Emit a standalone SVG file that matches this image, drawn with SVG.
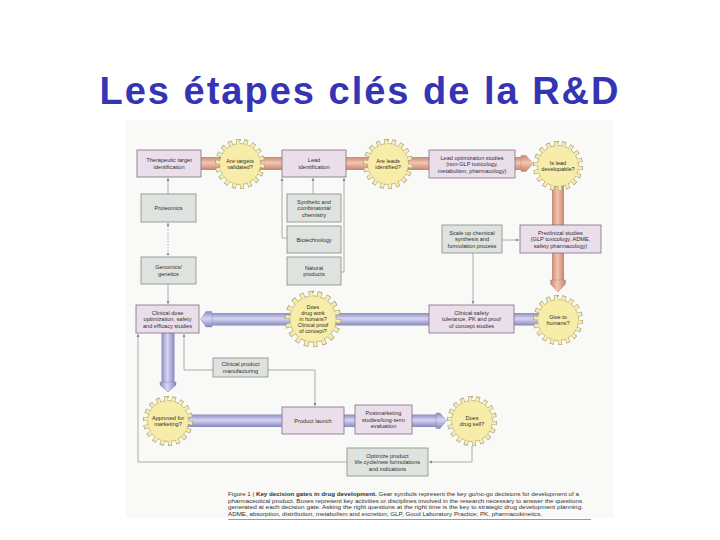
<svg xmlns="http://www.w3.org/2000/svg" xmlns:xlink="http://www.w3.org/1999/xlink" width="720" height="540" viewBox="0 0 720 540">
<style>
.t{font-family:"Liberation Sans",Arial,sans-serif;font-size:5.6px;fill:#2e2e2e;text-anchor:middle}
.cap{font-family:"Liberation Sans",Arial,sans-serif;font-size:5.6px;fill:#333}
.pk{fill:#ebdeeb;stroke:#7f6f80;stroke-width:0.8}
.gy{fill:#dfe3df;stroke:#868c86;stroke-width:0.8}
.ln{fill:none;stroke:#9a9a9a;stroke-width:0.8}
</style>
<defs>
<linearGradient id="salH" x1="0" y1="0" x2="0" y2="1"><stop offset="0" stop-color="#c88a72"/><stop offset="0.45" stop-color="#f4c6b2"/><stop offset="1" stop-color="#c3846d"/></linearGradient>
<linearGradient id="salV" x1="0" y1="0" x2="1" y2="0"><stop offset="0" stop-color="#c88a72"/><stop offset="0.45" stop-color="#f4c6b2"/><stop offset="1" stop-color="#c3846d"/></linearGradient>
<linearGradient id="lavH" x1="0" y1="0" x2="0" y2="1"><stop offset="0" stop-color="#8c8cc4"/><stop offset="0.45" stop-color="#d6d6f2"/><stop offset="1" stop-color="#8888bf"/></linearGradient>
<linearGradient id="lavV" x1="0" y1="0" x2="1" y2="0"><stop offset="0" stop-color="#8c8cc4"/><stop offset="0.45" stop-color="#d6d6f2"/><stop offset="1" stop-color="#8888bf"/></linearGradient>
<marker id="ah" viewBox="0 0 6 6" refX="6" refY="3" markerWidth="4" markerHeight="4" orient="auto-start-reverse"><path d="M0,0 L6,3 L0,6 z" fill="#8a8a8a"/></marker>
<g id="gear">
<circle r="22.5" fill="none" stroke="#a0966c" stroke-width="5" pathLength="180" stroke-dasharray="5 5"/>
<circle r="20.5" fill="#f7eca8" stroke="#a0966c" stroke-width="0.6"/>
<circle r="22.2" fill="none" stroke="#f7eca8" stroke-width="4.4" pathLength="180" stroke-dasharray="3.9 6.1" stroke-dashoffset="-0.55"/>
</g>
</defs>
<rect width="720" height="540" fill="#ffffff"/>
<text x="360" y="104" style="font-family:'Liberation Sans',Arial,sans-serif;font-weight:bold;font-size:38px;fill:#3434b4;letter-spacing:2px" text-anchor="middle">Les étapes clés de la R&amp;D</text>
<rect x="125" y="120" width="488" height="398" fill="#f9f9f7"/>

<g id="connectors">
<rect x="200" y="157" width="322" height="13" fill="url(#salH)"/>
<polygon points="521,155.5 526,155.5 533,163.5 526,171.5 521,171.5" fill="url(#salH)" stroke="#b57a64" stroke-width="0.4"/>
<rect x="552" y="180" width="12" height="101" fill="url(#salV)"/>
<polygon points="550.5,280 565.5,280 565.5,284 558,292 550.5,284" fill="url(#salV)" stroke="#b57a64" stroke-width="0.4"/>
<rect x="211" y="313" width="334" height="12.5" fill="url(#lavH)"/>
<polygon points="212,311.5 206,311.5 200.5,319.2 206,327 212,327" fill="url(#lavH)" stroke="#7b7bb0" stroke-width="0.4"/>
<rect x="161.5" y="332" width="13" height="51" fill="url(#lavV)"/>
<polygon points="160,382 176,382 176,385 168,392 160,385" fill="url(#lavV)" stroke="#7b7bb0" stroke-width="0.4"/>
<rect x="185" y="414.5" width="252" height="12.5" fill="url(#lavH)"/>
<polygon points="436,413 440,413 446.5,420.8 440,428.5 436,428.5" fill="url(#lavH)" stroke="#7b7bb0" stroke-width="0.4"/>
<path class="ln" d="M168,194 V178" marker-end="url(#ah)"/>
<path class="ln" d="M168,223 V256" stroke-dasharray="1.5 1.5" marker-start="url(#ah)" marker-end="url(#ah)"/>
<path class="ln" d="M168,284 V304" marker-end="url(#ah)"/>
<path class="ln" d="M313,194 V178" marker-end="url(#ah)"/>
<path class="ln" d="M287,238 H282 V178" marker-end="url(#ah)"/>
<path class="ln" d="M341,272 H344 V178" marker-end="url(#ah)"/>
<path class="ln" d="M502,240 H519" marker-end="url(#ah)"/>
<path class="ln" d="M473,253 V304" marker-end="url(#ah)"/>
<path class="ln" d="M213,370 H184 V334" marker-end="url(#ah)"/>
<path class="ln" d="M268,370 H315 V406" marker-end="url(#ah)"/>
<path class="ln" d="M472,446 V462 H429" marker-end="url(#ah)"/>
<path class="ln" d="M347,462 H138 V334" marker-end="url(#ah)"/>
</g>

<g id="target"><rect class="pk" x="137" y="150" width="64" height="27"/><text class="t" x="169" y="162.3">Therapeutic target</text><text class="t" x="169" y="168.8">identification</text></g>
<g id="gate-targets"><use xlink:href="#gear" transform="translate(240,164)"/><text class="t" x="240" y="162.5">Are targets</text><text class="t" x="240" y="169">validated?</text></g>
<g id="lead-id"><rect class="pk" x="282" y="150" width="64" height="27"/><text class="t" x="314" y="162.3">Lead</text><text class="t" x="314" y="168.8">identification</text></g>
<g id="gate-leads"><use xlink:href="#gear" transform="translate(388,164)"/><text class="t" x="388" y="162.5">Are leads</text><text class="t" x="388" y="169">identified?</text></g>
<g id="lead-opt"><rect class="pk" x="429" y="150" width="86" height="28"/><text class="t" x="472" y="159.5">Lead optimization studies</text><text class="t" x="472" y="166">(non-GLP toxicology,</text><text class="t" x="472" y="172.5">metabolism, pharmacology)</text></g>
<g id="gate-developable"><use xlink:href="#gear" transform="translate(558,166)"/><text class="t" x="558" y="164.5">Is lead</text><text class="t" x="558" y="171">developable?</text></g>
<g id="proteomics"><rect class="gy" x="141" y="194" width="55" height="28"/><text class="t" x="168.5" y="210">Proteomics</text></g>
<g id="genomics"><rect class="gy" x="141" y="257" width="55" height="27"/><text class="t" x="168.5" y="269.3">Genomics/</text><text class="t" x="168.5" y="275.8">genetics</text></g>
<g id="synthetic"><rect class="gy" x="287" y="194" width="54" height="28"/><text class="t" x="314" y="203.5">Synthetic and</text><text class="t" x="314" y="210">combinatorial</text><text class="t" x="314" y="216.5">chemistry</text></g>
<g id="biotech"><rect class="gy" x="287" y="226" width="54" height="27"/><text class="t" x="314" y="241.5">Biotechnology</text></g>
<g id="natural"><rect class="gy" x="287" y="257" width="54" height="28"/><text class="t" x="314" y="269.8">Natural</text><text class="t" x="314" y="276.3">products</text></g>
<g id="scaleup"><rect class="gy" x="442" y="225" width="60" height="28"/><text class="t" x="472" y="234.5">Scale up chemical</text><text class="t" x="472" y="241">synthesis and</text><text class="t" x="472" y="247.5">formulation process</text></g>
<g id="preclinical"><rect class="pk" x="520" y="225" width="81" height="28"/><text class="t" x="560.5" y="234.5">Preclinical studies</text><text class="t" x="560.5" y="241">(GLP toxicology, ADME,</text><text class="t" x="560.5" y="247.5">safety pharmacology)</text></g>
<g id="dose"><rect class="pk" x="136" y="305" width="63" height="28"/><text class="t" x="167.5" y="314.5">Clinical dose</text><text class="t" x="167.5" y="321">optimization, safety</text><text class="t" x="167.5" y="327.5">and efficacy studies</text></g>
<g id="gate-works"><use xlink:href="#gear" transform="translate(313,319) scale(1.13)"/><text class="t" x="313" y="309.2" style="font-size:5.3px">Does</text><text class="t" x="313" y="315.1" style="font-size:5.3px">drug work</text><text class="t" x="313" y="321" style="font-size:5.3px">in humans?</text><text class="t" x="313" y="326.9" style="font-size:5.3px">Clinical proof</text><text class="t" x="313" y="332.8" style="font-size:5.3px">of concept?</text></g>
<g id="clin-safety"><rect class="pk" x="429" y="305" width="85" height="28"/><text class="t" x="471.5" y="314.5">Clinical safety</text><text class="t" x="471.5" y="321">tolerance, PK and proof</text><text class="t" x="471.5" y="327.5">of concept studies</text></g>
<g id="gate-humans"><use xlink:href="#gear" transform="translate(558,320)"/><text class="t" x="558" y="318.5">Give to</text><text class="t" x="558" y="325">humans?</text></g>
<g id="manufacturing"><rect class="gy" x="213" y="358" width="55" height="19"/><text class="t" x="240.5" y="366.3">Clinical product</text><text class="t" x="240.5" y="372.8">manufacturing</text></g>
<g id="gate-approved"><use xlink:href="#gear" transform="translate(168,421)"/><text class="t" x="168" y="419.5">Approved for</text><text class="t" x="168" y="426">marketing?</text></g>
<g id="launch"><rect class="pk" x="282" y="407" width="62" height="27"/><text class="t" x="313" y="422.5">Product launch</text></g>
<g id="postmarketing"><rect class="pk" x="355" y="405" width="57" height="29"/><text class="t" x="383.5" y="415">Postmarketing</text><text class="t" x="383.5" y="421.5">studies/long-term</text><text class="t" x="383.5" y="428">evaluation</text></g>
<g id="gate-sell"><use xlink:href="#gear" transform="translate(472,421)"/><text class="t" x="472" y="419.5">Does</text><text class="t" x="472" y="426">drug sell?</text></g>
<g id="optimize"><rect class="gy" x="347" y="448" width="81" height="28"/><text class="t" x="387.5" y="457.5">Optimize product</text><text class="t" x="387.5" y="464">life cycle/new formulations</text><text class="t" x="387.5" y="470.5">and indications</text></g>

<g id="caption">
<text class="cap" x="228" y="496" textLength="351" lengthAdjust="spacingAndGlyphs">Figure 1 | <tspan font-weight="bold">Key decision gates in drug development.</tspan> Gear symbols represent the key go/no-go decisions for development of a</text>
<text class="cap" x="228" y="502.5" textLength="354" lengthAdjust="spacingAndGlyphs">pharmaceutical product. Boxes represent key activities or disciplines involved in the research necessary to answer the questions</text>
<text class="cap" x="228" y="509" textLength="355" lengthAdjust="spacingAndGlyphs">generated at each decision gate. Asking the right questions at the right time is the key to strategic drug development planning.</text>
<text class="cap" x="228" y="515.5" textLength="314" lengthAdjust="spacingAndGlyphs">ADME, absorption, distribution, metabolism and excretion; GLP, Good Laboratory Practice; PK, pharmacokinetics.</text>
<line x1="228" y1="519.5" x2="591" y2="519.5" stroke="#555" stroke-width="0.6"/>
</g>
</svg>
